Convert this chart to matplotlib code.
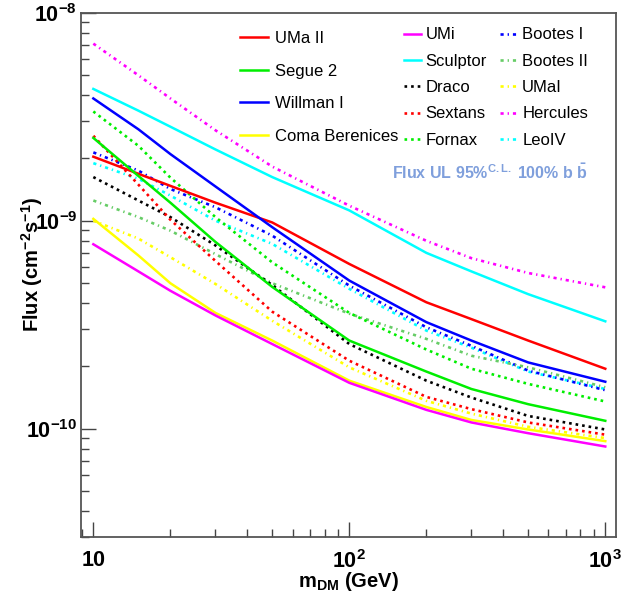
import numpy as np
import matplotlib
matplotlib.use('Agg')
import matplotlib.pyplot as plt
from matplotlib.ticker import LogLocator, NullFormatter

plt.rcParams['font.family'] = ['Liberation Sans', 'DejaVu Sans']
plt.rcParams['mathtext.fontset'] = 'custom'
plt.rcParams['mathtext.rm'] = 'Liberation Sans'
plt.rcParams['mathtext.bf'] = 'Liberation Sans:bold'
plt.rcParams['mathtext.it'] = 'Liberation Sans:italic'

# dark matter mass (GeV)
mass = [10, 15, 20, 30, 50, 100, 200, 300, 500, 1000]

# flux upper limits (cm^-2 s^-1)
uma2     = [2.03e-9, 1.68e-9, 1.47e-9, 1.22e-9, 9.8e-10, 6.19e-10, 4.05e-10, 3.36e-10, 2.65e-10, 1.94e-10]
segue2   = [2.5e-9, 1.64e-9, 1.22e-9, 7.9e-10, 4.8e-10, 2.65e-10, 1.88e-10, 1.55e-10, 1.31e-10, 1.09e-10]
willman1 = [3.87e-9, 2.75e-9, 2.09e-9, 1.46e-9, 9.3e-10, 5.15e-10, 3.25e-10, 2.65e-10, 2.08e-10, 1.68e-10]
coma     = [1.02e-9, 6.8e-10, 5.0e-10, 3.6e-10, 2.65e-10, 1.7e-10, 1.27e-10, 1.1e-10, 9.9e-11, 8.7e-11]
umi      = [7.7e-10, 5.7e-10, 4.6e-10, 3.5e-10, 2.55e-10, 1.66e-10, 1.23e-10, 1.07e-10, 9.5e-11, 8.2e-11]
sculptor = [4.3e-9, 3.38e-9, 2.83e-9, 2.2e-9, 1.62e-9, 1.12e-9, 7.0e-10, 5.7e-10, 4.43e-10, 3.28e-10]
draco    = [1.62e-9, 1.25e-9, 1.04e-9, 7.6e-10, 4.9e-10, 2.55e-10, 1.7e-10, 1.41e-10, 1.15e-10, 9.9e-11]
sextans  = [2.56e-9, 1.49e-9, 1.01e-9, 6.4e-10, 3.65e-10, 2.12e-10, 1.42e-10, 1.24e-10, 1.07e-10, 9.35e-11]
fornax   = [3.35e-9, 2.29e-9, 1.61e-9, 1.04e-9, 6.3e-10, 3.6e-10, 2.4e-10, 1.94e-10, 1.64e-10, 1.35e-10]
bootes1  = [2.13e-9, 1.74e-9, 1.42e-9, 1.16e-9, 8.47e-10, 4.87e-10, 3.07e-10, 2.5e-10, 1.9e-10, 1.53e-10]
bootes2  = [1.25e-9, 1.04e-9, 8.95e-10, 6.9e-10, 5.0e-10, 3.57e-10, 2.7e-10, 2.24e-10, 1.97e-10, 1.58e-10]
umai     = [1.0e-9, 8.2e-10, 6.67e-10, 4.96e-10, 3.3e-10, 1.97e-10, 1.36e-10, 1.18e-10, 1.02e-10, 9.0e-11]
hercules = [7.1e-9, 5.0e-9, 3.87e-9, 2.72e-9, 1.82e-9, 1.18e-9, 8.0e-10, 6.6e-10, 5.6e-10, 4.78e-10]
leo4     = [1.89e-9, 1.59e-9, 1.32e-9, 1.0e-9, 7.73e-10, 4.7e-10, 2.96e-10, 2.45e-10, 1.88e-10, 1.55e-10]

solid = '-'
dot = (0, (1, 1.5))
dashdot = (0, (1.2, 1.5, 0.5, 1.5))

fig = plt.figure(figsize=(6.26, 5.92), dpi=100)
ax = fig.add_axes([0.130, 0.0924, 0.8535, 0.8861])

# dashed ones first, solid ones on top
h = {}
h['Hercules'], = ax.plot(mass, hercules, color='#ff00ff', ls=dashdot, lw=1.9)
h['LeoIV'], = ax.plot(mass, leo4, color='#00ffff', ls=dashdot, lw=1.9)
h['Bootes I'], = ax.plot(mass, bootes1, color='#0000ff', ls=dashdot, lw=1.9)
h['Bootes II'], = ax.plot(mass, bootes2, color='#66cc66', ls=dashdot, lw=1.9)
h['UMaI'], = ax.plot(mass, umai, color='#ffff00', ls=dashdot, lw=1.9)
h['Draco'], = ax.plot(mass, draco, color='black', ls=dot, lw=1.9)
h['Sextans'], = ax.plot(mass, sextans, color='#ff0000', ls=dot, lw=1.9)
h['Fornax'], = ax.plot(mass, fornax, color='#00ee00', ls=dot, lw=1.9)
h['UMa II'], = ax.plot(mass, uma2, color='#ff0000', ls=solid, lw=1.8)
h['Segue 2'], = ax.plot(mass, segue2, color='#00ee00', ls=solid, lw=1.8)
h['Willman I'], = ax.plot(mass, willman1, color='#0000ff', ls=solid, lw=1.8)
h['Coma Berenices'], = ax.plot(mass, coma, color='#ffff00', ls=solid, lw=1.8)
h['UMi'], = ax.plot(mass, umi, color='#ff00ff', ls=solid, lw=1.8)
h['Sculptor'], = ax.plot(mass, sculptor, color='#00ffff', ls=solid, lw=1.8)

ax.set_xscale('log')
ax.set_yscale('log')
ax.set_xlim(8.98, 1098)
ax.set_ylim(3.0e-11, 1e-8)

ax.set_xticks([10, 100, 1000], labels=[r'$\mathbf{10}$', r'$\mathbf{10^{2}}$', r'$\mathbf{10^{3}}$'])
ax.set_yticks([1e-10, 1e-9, 1e-8], labels=[r'$\mathbf{10^{-10}}$', r'$\mathbf{10^{-9}}$', r'$\mathbf{10^{-8}}$'])
ax.xaxis.set_minor_locator(LogLocator(base=10, subs=np.arange(2, 10)))
ax.yaxis.set_minor_locator(LogLocator(base=10, subs=np.arange(2, 10)))
ax.xaxis.set_minor_formatter(NullFormatter())
ax.yaxis.set_minor_formatter(NullFormatter())
ax.tick_params(which='both', direction='in', top=False, right=False, labelsize=15.5, color='#444444')
ax.tick_params(which='major', length=11, width=1)
ax.tick_params(which='minor', length=5.5, width=1)
ax.tick_params(axis='x', pad=9)
ax.tick_params(axis='y', pad=3)
for s in ax.spines.values():
    s.set_color('#555555')
    s.set_linewidth(1.3)

ax.set_xlabel(r'm$_{\mathbf{DM}}$ (GeV)', fontsize=14.5, fontweight='bold')
ax.set_ylabel(r'Flux (cm$^{\mathbf{-2}}$s$^{\mathbf{-1}}$)', fontsize=14.5, fontweight='bold')
ax.xaxis.set_label_coords(0.5, -0.063)
ax.yaxis.set_label_coords(-0.068, 0.52)

left_names = ['UMa II', 'Segue 2', 'Willman I', 'Coma Berenices']
leg1 = ax.legend([h[n] for n in left_names], left_names, loc='upper left',
                 bbox_to_anchor=(0.297, 0.965), frameon=False, fontsize=12,
                 handlelength=1.7, handletextpad=0.4, labelspacing=1.05,
                 borderpad=0, borderaxespad=0)
ax.add_artist(leg1)
right_names = ['UMi', 'Sculptor', 'Draco', 'Sextans', 'Fornax',
               'Bootes I', 'Bootes II', 'UMaI', 'Hercules', 'LeoIV']
leg2 = ax.legend([h[n] for n in right_names], right_names, loc='upper left', ncol=2,
                 bbox_to_anchor=(0.604, 0.972), frameon=False, fontsize=12,
                 handlelength=1.0, handletextpad=0.3, labelspacing=0.68,
                 columnspacing=0.8, borderpad=0, borderaxespad=0)

ax.text(0.948, 0.696, r'Flux UL 95%$^{\mathbf{C.L.}}$ 100% b $\mathbf{\bar{b}}$',
        transform=ax.transAxes, ha='right', va='center', fontsize=11.5,
        fontweight='bold', color='#7f9fdc')

fig.savefig('out.png', dpi=100)
